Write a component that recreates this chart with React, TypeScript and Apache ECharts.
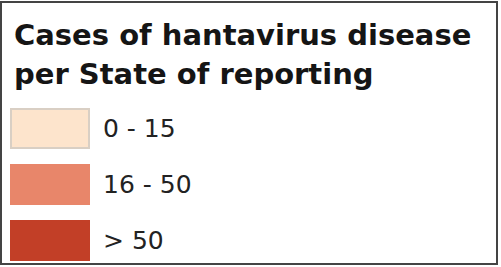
import React, { useEffect, useRef } from "react";
import * as echarts from "echarts";

const titleLines = ["Cases of hantavirus disease", "per State of reporting"];
const classes = ["0 - 15", "16 - 50", "> 50"];
const classColors = ["#fde4cc", "#e8866a", "#c23f27"];
const classBorders = ["#d9cfc4", "#e8866a", "#c23f27"];

export default function App() {
  const ref = useRef<HTMLDivElement>(null);
  useEffect(() => {
    const chart = echarts.init(ref.current!, null, { renderer: "svg" });
    chart.setOption({
      animation: false,
      backgroundColor: "#ffffff",
      title: {
        text: titleLines.join("\n"),
        left: 9,
        top: 10,
        textStyle: {
          fontFamily: "DejaVu Sans, sans-serif",
          fontSize: 29,
          fontWeight: "bold",
          color: "#151515",
          lineHeight: 39,
        },
      },
      legend: {
        orient: "vertical",
        left: 10,
        top: 108,
        padding: 0,
        itemWidth: 78,
        itemHeight: 39,
        itemGap: 15,
        icon: "rect",
        data: classes,
        textStyle: {
          fontFamily: "DejaVu Sans, sans-serif",
          fontSize: 25,
          color: "#222",
          padding: [0, 0, 0, 9],
        },
      },
      xAxis: { show: false, type: "category", data: [] },
      yAxis: { show: false, type: "value" },
      grid: { left: 0, right: 0, top: 0, bottom: 0 },
      series: classes.map((c, i) => ({
        name: c,
        type: "bar",
        data: [],
        itemStyle: { color: classColors[i], borderColor: classBorders[i], borderWidth: 2 },
      })),
      graphic: [
        {
          type: "rect",
          shape: { x: 1, y: 2, width: 496, height: 262 },
          style: { fill: "none", stroke: "#444", lineWidth: 2 },
          silent: true,
        },
      ],
    });
    return () => chart.dispose();
  }, []);
  return <div ref={ref} style={{ position: "fixed", left: 0, top: 0, width: 501, height: 267 }} />;
}
